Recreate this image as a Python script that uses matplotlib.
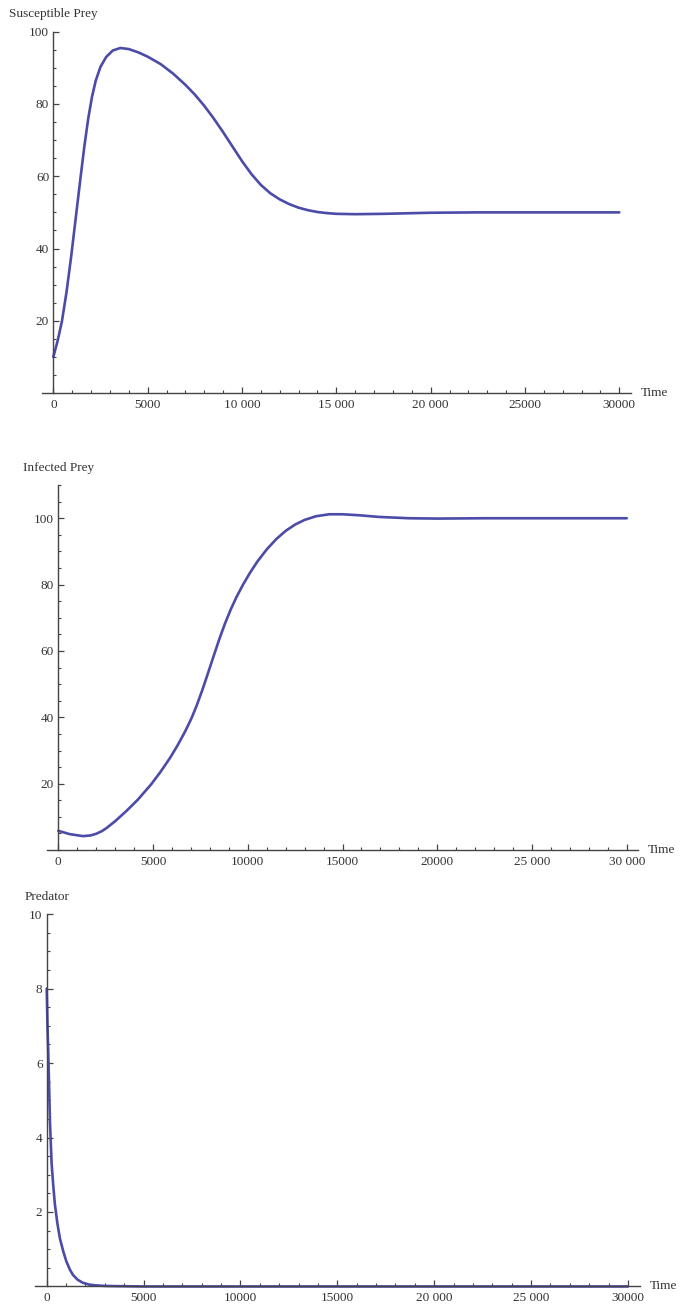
import matplotlib
matplotlib.use("Agg")
import matplotlib.pyplot as plt
from matplotlib.ticker import MultipleLocator, FixedLocator

plt.rcParams["font.family"] = ["Liberation Serif", "DejaVu Serif"]

# values
t_sus = [0, 230, 460, 700, 950, 1200, 1450, 1650, 1850, 2050, 2250, 2500, 2800, 3150,
         3550, 4000, 4500, 5000, 5700, 6350, 7000, 7500, 8000, 8500, 9000, 9500, 10000,
         10500, 11000, 11500, 12000, 12500, 13000, 13500, 14000, 14500, 15000, 16000,
         17500, 20000, 22500, 25000, 30000]
v_sus = [10, 14.5, 20, 28, 38, 49, 60, 68.5, 76, 82, 86.5, 90.3, 93.0, 94.8,
         95.5, 95.2, 94.3, 93.1, 91, 88.4, 85.3, 82.6, 79.5, 76.0, 72.2, 68.2, 64.2,
         60.6, 57.6, 55.3, 53.6, 52.3, 51.3, 50.6, 50.1, 49.8, 49.6, 49.5,
         49.6, 49.9, 50, 50, 50]

t_inf = [0, 600, 1300, 1700, 2000, 2300, 2540, 3000, 3600, 4200, 4900, 5400, 5900, 6300,
         6700, 7020, 7300, 7600, 7900, 8200, 8500, 8800, 9100, 9400, 9740, 10100, 10500,
         11000, 11500, 12000, 12500, 13000, 13600, 14300, 15000, 15880, 16930, 18500,
         20000, 22500, 25000, 30000]
v_inf = [5.8, 4.8, 4.2, 4.4, 4.9, 5.7, 6.6, 8.7, 11.8, 15.2, 19.8, 23.6, 27.8, 31.6,
         35.8, 39.6, 43.5, 48.2, 53.3, 58.5, 63.6, 68.3, 72.5, 76.2, 79.9, 83.4, 86.9,
         90.6, 93.7, 96.2, 98.1, 99.5, 100.6, 101.2, 101.2, 100.9, 100.4, 100.0,
         99.9, 100, 100, 100]

t_pred = [0, 40, 85, 170, 254, 340, 424, 550, 678, 850, 1017, 1200, 1356, 1600, 1864,
          2200, 2540, 3000, 3500, 5000, 10000, 20000, 30000]
v_pred = [8.0, 7.0, 6.2, 4.4, 3.3, 2.7, 2.2, 1.7, 1.3, 0.95, 0.67, 0.45, 0.31, 0.18, 0.1,
          0.05, 0.03, 0.015, 0.01, 0, 0, 0, 0]

xtick_vals = [0, 5000, 10000, 15000, 20000, 25000, 30000]
xlabels_1 = ["0", "5000", "10 000", "15 000", "20 000", "25000", "30000"]
xlabels_2 = ["0", "5000", "10000", "15000", "20000", "25 000", "30 000"]
xlabels_3 = ["0", "5000", "10000", "15000", "20 000", "25 000", "30000"]

panels = [
    # rect, t, v, ylabel, ytop, major, minor, xlabels
    ([0.0617, 0.7002, 0.8643, 0.2756], t_sus, v_sus, "Susceptible Prey", 100, 20, 5, xlabels_1),
    ([0.0689, 0.3516, 0.8681, 0.2784], t_inf, v_inf, "Infected Prey", 110, 20, 5, xlabels_2),
    ([0.0515, 0.0187, 0.8877, 0.2841], t_pred, v_pred, "Predator", 10, 2, 0.5, xlabels_3),
]

line_col = "#4b4ba8"
axis_col = "#444444"

fig = plt.figure(figsize=(6.81, 13.11), dpi=100)

for rect, t, v, ylab, ytop, major, minor, xlabs in panels:
    ax = fig.add_axes(rect)
    ax.plot(t, v, color=line_col, lw=1.9, solid_capstyle="round", clip_on=False)
    ax.set_xlim(-600, 30600)
    ax.set_ylim(0, ytop)

    for s in ["top", "right"]:
        ax.spines[s].set_visible(False)
    ax.spines["left"].set_position(("data", 0))
    ax.spines["left"].set_color(axis_col)
    ax.spines["bottom"].set_color(axis_col)
    ax.spines["left"].set_linewidth(1.0)
    ax.spines["bottom"].set_linewidth(1.0)

    ax.xaxis.set_major_locator(FixedLocator(xtick_vals))
    ax.set_xticklabels(xlabs)
    ax.xaxis.set_minor_locator(MultipleLocator(1000))
    yt = [major * k for k in range(1, int(round(ytop / major)) + 1) if major * k <= ytop]
    ax.yaxis.set_major_locator(FixedLocator(yt))
    ax.set_yticklabels([("%g" % y) for y in yt])
    ax.yaxis.set_minor_locator(MultipleLocator(minor))

    ax.tick_params(which="both", direction="in", colors=axis_col, labelcolor="#333333",
                   labelsize=9.5)
    ax.tick_params(which="major", length=4, width=0.9)
    ax.tick_params(which="minor", length=2.2, width=0.8)
    ax.tick_params(axis="x", pad=4)
    ax.tick_params(axis="y", pad=3)

    ax.annotate(ylab, xy=(0, ytop), xycoords="data", xytext=(0, 12.5),
                textcoords="offset points", ha="center", va="center",
                fontsize=9.5, color="#333333", annotation_clip=False)
    ax.annotate("Time", xy=(1, 0), xycoords="axes fraction", xytext=(7, 0),
                textcoords="offset points", ha="left", va="center",
                fontsize=9.5, color="#333333", annotation_clip=False)

fig.savefig("out.png", dpi=100)
